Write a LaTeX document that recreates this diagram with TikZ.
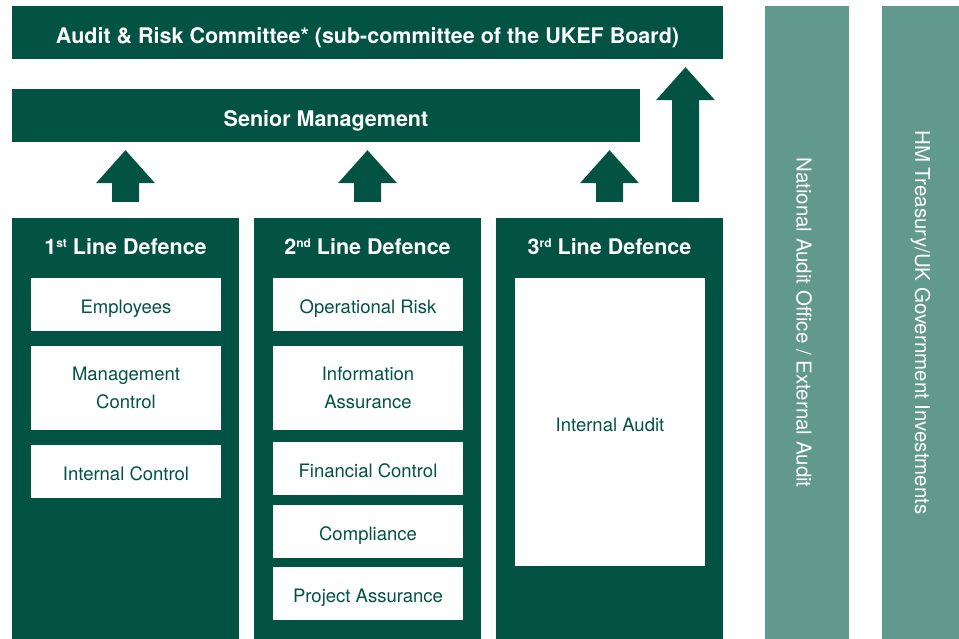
\documentclass[tikz,border=0pt]{standalone}
\usepackage{fontspec}
\setmainfont{TeX Gyre Heros}
\usetikzlibrary{calc}

\definecolor{ukefgreen}{HTML}{025343}
\definecolor{ukefteal}{HTML}{62998D}

\tikzset{
  bar/.style={fill=ukefgreen, text=white, inner sep=0pt, minimum height=53pt,
    text height=21.5pt, text depth=0pt, font=\fontsize{21.5}{26}\selectfont\bfseries},
  column/.style={fill=ukefgreen, inner sep=0pt, minimum width=227pt, minimum height=421pt},
  colhead/.style={text=white, inner sep=0pt, text height=21.5pt, text depth=0pt,
    font=\fontsize{21.5}{26}\selectfont\bfseries},
  box/.style={fill=white, text=ukefgreen, inner sep=0pt, minimum width=190pt, align=center,
    font=\fontsize{18.5}{27.5}\selectfont},
  item/.style={box, minimum height=53pt, text height=18.5pt, text depth=0pt},
  side/.style={fill=ukefteal, inner sep=0pt, minimum height=633pt},
  sidetext/.style={text=white, rotate=-90, font=\fontsize{20.5}{24}\selectfont}
}

% small raised ordinal after the line number
\newcommand{\ord}[1]{\raisebox{7pt}{\fontsize{12}{12}\selectfont #1}}

% block arrow pointing up: #1 = foot of the shaft, #2 = tip (only its y is used)
\newcommand{\blockarrow}[2]{%
  \fill[ukefgreen] let \p1=(#1), \p2=(#2) in
    (\x1-13.5pt,\y1) -- (\x1+13.5pt,\y1) -- (\x1+13.5pt,\y2-33pt) -- (\x1+29.5pt,\y2-33pt)
    -- (\x1,\y2) -- (\x1-29.5pt,\y2-33pt) -- (\x1-13.5pt,\y2-33pt) -- cycle;}

\begin{document}
\begin{tikzpicture}[x=1pt, y=1pt]
  \useasboundingbox (0,0) rectangle (959,639);

  % committee and management bars
  \node[bar, minimum width=711pt] (audit) at (367.5,606.5)
    {Audit \& Risk Committee* (sub-committee of the UKEF Board)};
  \node[bar, minimum width=628pt] (senior) at (326,523.5) {Senior Management};

  % the three lines of defence
  \node[column] (col1) at (125.5,210.5) {};
  \node[column] (col2) at (367.5,210.5) {};
  \node[column] (col3) at (609.5,210.5) {};

  \node[colhead] (head1) at ($(col1.north)+(0,-25.5)$) {1\ord{st} Line Defence};
  \node[colhead] (head2) at ($(col2.north)+(0,-25.5)$) {2\ord{nd} Line Defence};
  \node[colhead] (head3) at ($(col3.north)+(0,-25.5)$) {3\ord{rd} Line Defence};

  % 1st line
  \node[item] (employees) at (126,334.5) {Employees};
  \node[box, minimum height=84pt] (mgmt) at (126,251) {Management\\Control};
  \node[item] (intctrl) at (126,167.5) {Internal Control};

  % 2nd line
  \node[item] (oprisk) at (368,334.5) {Operational Risk};
  \node[box, minimum height=84pt] (infoass) at (368,251) {Information\\Assurance};
  \node[item] (finctrl) at (368,170.5) {Financial Control};
  \node[item] (compliance) at (368,107.5) {Compliance};
  \node[item] (projass) at (368,45.5) {Project Assurance};

  % 3rd line
  \node[item, minimum height=288pt] (intaudit) at (610,217) {Internal Audit};

  % reporting arrows
  \coordinate (foot1) at ($(col1.north)+(0,16)$);
  \coordinate (foot2) at ($(col2.north)+(0,16)$);
  \coordinate (foot3) at ($(col3.north)+(0,16)$);
  \coordinate (foot4) at ($(col3.north)+(76,16)$);
  \coordinate (tip) at ($(senior.south)+(0,-8)$);
  \coordinate (tiptop) at ($(audit.south)+(0,-8)$);
  \blockarrow{foot1}{tip}
  \blockarrow{foot2}{tip}
  \blockarrow{foot3}{tip}
  \blockarrow{foot4}{tiptop}

  % external bodies
  \node[side, minimum width=84pt] (nao) at (807,316.5) {};
  \node[side, minimum width=77pt] (hmt) at (920.5,316.5) {};
  \node[sidetext] at ($(nao.center)+(-3,0)$) {National Audit Office / External Audit};
  \node[sidetext] at (hmt.center) {HM Treasury/UK Government Investments};
\end{tikzpicture}
\end{document}
